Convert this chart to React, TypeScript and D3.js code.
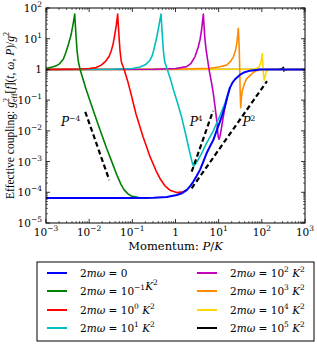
import React from 'react';
import * as d3 from 'd3';

// Data: pairs of [log10(P/K), log10(g_eff^2/g^2)]
const blue: [number, number][] = [
  [-3, -4.19], [-1, -4.19], [-0.5, -4.18], [-0.2, -4.15], [0.03, -4.09], [0.15, -4.03], [0.26, -3.93], [0.34, -3.8], [0.41, -3.66], [0.49, -3.47], [0.567, -3.27],
  [0.64, -3.02], [0.72, -2.73], [0.8, -2.5], [0.876, -2.3], [0.95, -2.0], [1.03, -1.7], [1.09, -1.45], [1.146, -1.2], [1.2, -0.9], [1.26, -0.6], [1.32, -0.43], [1.38, -0.32], [1.49, -0.18],
  [1.6, -0.09], [1.725, -0.04], [1.96, 0], [3, 0],
];
const green: [number, number][] = [
  [-3, 0.04], [-2.85, 0.08], [-2.75, 0.13], [-2.69, 0.18], [-2.6, 0.33], [-2.54, 0.55], [-2.48, 0.82],
  [-2.42, 1.12], [-2.38, 1.42], [-2.355, 1.62], [-2.335, 1.8], [-2.32, 1.45], [-2.3, 1.0], [-2.28, 0.6],
  [-2.25, 0.25], [-2.21, 0.0], [-2.14, -0.33], [-2.07, -0.65], [-1.92, -1.27], [-1.77, -1.88], [-1.6, -2.55],
  [-1.45, -3.1], [-1.34, -3.5], [-1.26, -3.75], [-1.19, -3.92], [-1.1, -4.05], [-1.03, -4.12], [-0.85, -4.17], [-0.6, -4.19],
];
const red: [number, number][] = [
  [-3, 0], [-2.5, 0.005], [-2.2, 0.015], [-2.0, 0.03], [-1.84, 0.06], [-1.72, 0.14], [-1.61, 0.28],
  [-1.54, 0.42], [-1.49, 0.6], [-1.45, 0.8], [-1.42, 1.02], [-1.37, 1.45], [-1.355, 1.62], [-1.34, 1.8], [-1.325, 1.45], [-1.305, 1.0], [-1.285, 0.6],
  [-1.255, 0.25], [-1.19, 0], [-1.1, -0.42], [-1.03, -0.8], [-0.915, -1.45], [-0.75, -2.2], [-0.59, -2.84],
  [-0.45, -3.3], [-0.36, -3.55], [-0.25, -3.78], [-0.13, -3.93], [0.03, -4.01], [0.18, -3.98], [0.26, -3.92],
];
const cyan: [number, number][] = [
  [-3, 0], [-1.5, 0.005], [-1.0, 0.03], [-0.82, 0.08], [-0.7, 0.15], [-0.59, 0.3], [-0.54, 0.45], [-0.51, 0.6],
  [-0.45, 0.95], [-0.4, 1.3], [-0.36, 1.62], [-0.335, 1.8], [-0.32, 1.45], [-0.3, 1.0], [-0.28, 0.6],
  [-0.25, 0.25], [-0.19, 0], [-0.12, -0.3], [-0.05, -0.65], [0.05, -1.1], [0.15, -1.6], [0.25, -2.2],
  [0.33, -2.7], [0.39, -3.05], [0.42, -3.15], [0.46, -3.08], [0.5, -3.0], [0.6, -2.75], [0.72, -2.4], [0.876, -2.0],
  [1.03, -1.5], [1.146, -1.1], [1.26, -0.58],
];
const magenta: [number, number][] = [
  [-3, 0], [-0.5, 0.005], [0, 0.03], [0.26, 0.09], [0.36, 0.2], [0.45, 0.41], [0.52, 0.7], [0.567, 0.96],
  [0.6, 1.25], [0.625, 1.55], [0.645, 1.8], [0.66, 1.45], [0.68, 1.0], [0.71, 0.63], [0.745, 0.3],
  [0.78, -0.02], [0.83, -0.4], [0.876, -0.78], [0.915, -1.2], [0.95, -1.6], [0.975, -2.0], [0.99, -2.2],
  [1.01, -2.27], [1.03, -2.18], [1.06, -1.95], [1.1, -1.6], [1.146, -1.22], [1.2, -0.9],
];
const orange: [number, number][] = [
  [-3, 0], [0, 0.005], [0.8, 0.04], [1.0, 0.08], [1.185, 0.14], [1.28, 0.27], [1.34, 0.41], [1.39, 0.62],
  [1.42, 0.85], [1.44, 1.1], [1.455, 1.34], [1.468, 0.95], [1.478, 0.6], [1.488, 0.0], [1.498, -0.7],
  [1.51, -1.25], [1.522, -1.0], [1.545, -0.7], [1.6, -0.45], [1.65, -0.3], [1.725, -0.2], [1.8, -0.1],
  [1.88, -0.04], [2.0, 0], [3, 0],
];
const yellow: [number, number][] = [
  [-3, 0], [1.5, 0.005], [1.8, 0.01], [1.88, 0.03], [1.93, 0.08], [1.957, 0.14], [1.99, 0.3], [2.01, 0.52], [2.022, 0.2],
  [2.032, -0.05], [2.045, -0.28], [2.058, -0.35], [2.075, -0.22], [2.1, -0.08], [2.13, -0.02], [2.2, 0], [3, 0],
];
const black: [number, number][] = [
  [-3, 0], [2.4, 0.005], [2.47, 0.03], [2.5, 0.07], [2.51, -0.05], [2.53, -0.02], [2.6, 0], [3, 0],
];

const seriesData = [blue, green, red, cyan, magenta, orange, yellow, black];
const seriesColors = ['#0000ff', '#008000', '#ff0000', '#00bfbf', '#bf00bf', '#ff8c00', '#ffd700', '#000000'];
const legendExps: (number | null)[] = [null, -1, 0, 1, 2, 3, 4, 5];

// Guide lines: [log10 P start, log10 P end, log10 value at start, power]
const guides: [number, number, number, number][] = [
  [-2.09, -1.534, -1.38, -4],
  [0.375, 0.87, -3.33, 4],
  [0.375, 2.12, -3.87, 2],
];
const guideLabels: { text: string; exp: string; lx: number; lv: number }[] = [
  { text: 'P', exp: '−4', lx: -2.65, lv: -1.85 },
  { text: 'P', exp: '4', lx: 0.33, lv: -1.85 },
  { text: 'P', exp: '2', lx: 1.55, lv: -1.85 },
];

const xTickExps = [-3, -2, -1, 0, 1, 2, 3];
const yTickExps = [-5, -4, -3, -2, -1, 0, 1, 2];

const FONT = '"DejaVu Serif", "Liberation Serif", serif';
const FONT_NARROW = '"Liberation Serif", "DejaVu Serif", serif';

export default function App() {
  const W = 317, H = 344;
  const L = 46, R = 305, T = 8, B = 223;
  const x = d3.scaleLog().domain([1e-3, 1e3]).range([L, R]);
  const y = d3.scaleLog().domain([1e-5, 1e2]).range([B, T]);
  const line = d3
    .line<[number, number]>()
    .x((d) => x(Math.pow(10, d[0])))
    .y((d) => y(Math.pow(10, d[1])))
    .curve(d3.curveLinear);

  const minorX: number[] = [];
  for (let e = -3; e < 3; e++) for (let k = 2; k <= 9; k++) minorX.push(k * Math.pow(10, e));
  const minorY: number[] = [];
  for (let e = -5; e < 2; e++) for (let k = 2; k <= 9; k++) minorY.push(k * Math.pow(10, e));

  const powLabel = (e: number) =>
    e === 0 ? (
      <tspan>1</tspan>
    ) : (
      <>
        <tspan>10</tspan>
        <tspan dy={-5} fontSize={7.5}>
          {e < 0 ? '−' + Math.abs(e) : String(e)}
        </tspan>
      </>
    );

  const drawOrder = [7, 6, 5, 4, 3, 2, 1, 0];

  const legendRows = [273, 291, 310, 328];

  return (
    <svg width={W} height={H} style={{ position: 'absolute', left: 0, top: 0, background: '#fff' }} fontFamily={FONT}>
      <rect x={0} y={0} width={W} height={H} fill="#fff" />
      <defs>
        <clipPath id="plotclip">
          <rect x={L} y={T} width={R - L} height={B - T} />
        </clipPath>
      </defs>
      <g clipPath="url(#plotclip)">
        {drawOrder.map((i) => (
          <path key={i} d={line(seriesData[i]) || ''} fill="none" stroke={seriesColors[i]} strokeWidth={i === 0 ? 2 : 1.6} strokeLinejoin="round" />
        ))}
        {guides.map((g, i) => {
          const pts: [number, number][] = [
            [g[0], g[2]],
            [g[1], g[2] + g[3] * (g[1] - g[0])],
          ];
          return (
            <path key={i} d={d3.line<[number, number]>().x((d) => x(Math.pow(10, d[0]))).y((d) => y(Math.pow(10, d[1])))(pts) || ''}
              fill="none" stroke="#000" strokeWidth={2.2} strokeDasharray="5,3" />
          );
        })}
      </g>
      {guideLabels.map((g, i) => (
        <text key={i} x={x(Math.pow(10, g.lx))} y={y(Math.pow(10, g.lv))} fontSize={12} fontStyle="italic" fill="#000">
          {g.text}
          <tspan dy={-5} fontSize={7.5} fontStyle="normal">{g.exp}</tspan>
        </text>
      ))}
      {/* frame */}
      <rect x={L} y={T} width={R - L} height={B - T} fill="none" stroke="#000" strokeWidth={1} />
      {/* ticks */}
      {xTickExps.map((e) => {
        const px = x(Math.pow(10, e));
        return (
          <g key={'xt' + e}>
            <line x1={px} x2={px} y1={B} y2={B - 4} stroke="#000" strokeWidth={0.8} />
            <line x1={px} x2={px} y1={T} y2={T + 4} stroke="#000" strokeWidth={0.8} />
            <text x={px} y={B + 13} fontSize={10.5} textAnchor="middle" fill="#000">{powLabel(e)}</text>
          </g>
        );
      })}
      {minorX.map((v, i) => {
        const px = x(v);
        return (
          <g key={'xm' + i}>
            <line x1={px} x2={px} y1={B} y2={B - 2} stroke="#000" strokeWidth={0.6} />
            <line x1={px} x2={px} y1={T} y2={T + 2} stroke="#000" strokeWidth={0.6} />
          </g>
        );
      })}
      {yTickExps.map((e) => {
        const py = y(Math.pow(10, e));
        return (
          <g key={'yt' + e}>
            <line x1={L} x2={L + 4} y1={py} y2={py} stroke="#000" strokeWidth={0.8} />
            <line x1={R} x2={R - 4} y1={py} y2={py} stroke="#000" strokeWidth={0.8} />
            <text x={L - 4} y={py + 4} fontSize={10.5} textAnchor="end" fill="#000">{powLabel(e)}</text>
          </g>
        );
      })}
      {minorY.map((v, i) => {
        const py = y(v);
        return (
          <g key={'ym' + i}>
            <line x1={L} x2={L + 2} y1={py} y2={py} stroke="#000" strokeWidth={0.6} />
            <line x1={R} x2={R - 2} y1={py} y2={py} stroke="#000" strokeWidth={0.6} />
          </g>
        );
      })}
      {/* axis titles */}
      <text x={(L + R) / 2} y={250} fontSize={11.5} textAnchor="middle" fill="#000">
        Momentum: <tspan fontStyle="italic">P</tspan>/<tspan fontStyle="italic">K</tspan>
      </text>
      <text transform={`translate(14, ${(T + B) / 2}) rotate(-90)`} fontSize={11.5} textAnchor="middle" fill="#000" fontFamily={FONT_NARROW}>
        Effective coupling: <tspan fontStyle="italic">g</tspan>
        <tspan dy={-5} fontSize={8}>2</tspan>
        <tspan dx={-4} dy={8} fontSize={8}>eff</tspan>
        <tspan dy={-3}>[</tspan>
        <tspan fontStyle="italic">f</tspan>](<tspan fontStyle="italic">t</tspan>, <tspan fontStyle="italic">ω</tspan>, <tspan fontStyle="italic">P</tspan>)/<tspan fontStyle="italic">g</tspan>
        <tspan dy={-5} fontSize={8}>2</tspan>
      </text>
      {/* legend */}
      <rect x={37} y={262} width={277} height={79} fill="#fff" stroke="#000" strokeWidth={1} />
      {legendExps.map((e, i) => {
        const col = Math.floor(i / 4);
        const row = i % 4;
        const lx = col === 0 ? 47 : 197;
        const ly = legendRows[row];
        return (
          <g key={'lg' + i}>
            <line x1={lx} x2={lx + 20} y1={ly} y2={ly} stroke={seriesColors[i]} strokeWidth={2} />
            <text x={lx + 33} y={ly + 4} fontSize={10.5} fill="#000">
              2<tspan fontStyle="italic">mω</tspan> = {e === null ? '0' : (
                <>
                  10<tspan dy={-5} fontSize={7.5}>{e < 0 ? '−' + Math.abs(e) : String(e)}</tspan>
                  <tspan dy={5}>{e < 0 ? '' : '\u00a0'}</tspan>
                  <tspan fontStyle="italic">K</tspan>
                  <tspan dy={-5} fontSize={7.5}>2</tspan>
                </>
              )}
            </text>
          </g>
        );
      })}
    </svg>
  );
}
